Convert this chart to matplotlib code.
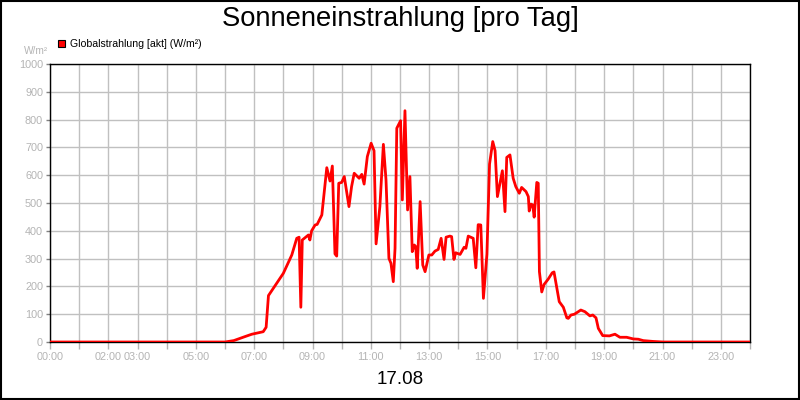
import matplotlib
matplotlib.use("Agg")
import matplotlib.pyplot as plt
from matplotlib.patches import Rectangle

plt.rcParams['font.family'] = ['Liberation Sans', 'DejaVu Sans']

# time of day in hours
hours = [0.00, 6.00, 6.30, 6.51, 6.70, 6.92, 7.31, 7.41, 7.49, 8.00, 8.29, 8.46, 8.54, 8.60,
         8.65, 8.86, 8.91, 8.97, 9.09, 9.16, 9.32, 9.49, 9.60, 9.68, 9.77, 9.83, 9.90,
         10.00, 10.09, 10.25, 10.34, 10.43, 10.60, 10.69, 10.77, 10.88, 11.01, 11.11,
         11.18, 11.31, 11.43, 11.52, 11.62, 11.69, 11.77, 11.83, 11.89, 12.02, 12.08,
         12.17, 12.26, 12.34, 12.42, 12.49, 12.54, 12.59, 12.69, 12.78, 12.86, 12.99,
         13.09, 13.20, 13.31, 13.41, 13.51, 13.58, 13.71, 13.77, 13.85, 13.91, 14.06,
         14.20, 14.26, 14.34, 14.51, 14.60, 14.68, 14.77, 14.86, 14.98, 15.07, 15.18,
         15.26, 15.34, 15.51, 15.60, 15.66, 15.77, 15.88, 15.97, 16.09, 16.17, 16.32,
         16.40, 16.43, 16.49, 16.55, 16.60, 16.69, 16.74, 16.78, 16.86, 16.94, 17.08,
         17.22, 17.28, 17.46, 17.60, 17.72, 17.77, 17.86, 17.98, 18.20, 18.34, 18.51,
         18.61, 18.72, 18.80, 18.95, 19.18, 19.37, 19.54, 19.77, 20.00, 20.17, 20.34,
         20.68, 21.02, 24.00]

# global radiation W/m²
radiation = [0, 0, 5, 13, 20, 28, 37, 53, 167, 247, 313, 373, 377, 125,
             367, 385, 367, 400, 421, 423, 457, 627, 579, 633, 317, 309, 571,
             574, 595, 487, 559, 607, 589, 603, 568, 667, 715, 688,
             353, 487, 711, 583, 301, 283, 217, 337, 769, 796, 511,
             832, 475, 595, 325, 349, 343, 265, 505, 277, 253, 313,
             313, 327, 333, 373, 297, 377, 381, 379, 297, 321, 315,
             341, 337, 381, 373, 267, 422, 421, 157, 316, 640, 721,
             688, 523, 616, 469, 664, 673, 589, 559, 535, 556, 541,
             523, 471, 496, 493, 449, 574, 571, 253, 180, 207, 226,
             249, 252, 145, 125, 87, 85, 97, 100, 115, 109, 94,
             97, 87, 49, 23, 22, 28, 17, 17, 11, 10, 5,
             2, 0, 0]

tick_hours = [0, 2, 3, 5, 7, 9, 11, 13, 15, 17, 19, 21, 23]
tick_labels = ["00:00", "02:00", "03:00", "05:00", "07:00", "09:00", "11:00",
               "13:00", "15:00", "17:00", "19:00", "21:00", "23:00"]
y_ticks = list(range(0, 1001, 100))

title = "Sonneneinstrahlung [pro Tag]"
date_label = "17.08"
series_label = "Globalstrahlung [akt] (W/m²)"
unit_label = "W/m²"

grey = "#b4b4b4"

fig = plt.figure(figsize=(8, 4), dpi=100)
fig.patch.set_facecolor("white")
ax = fig.add_axes([0.0625, 0.145, 0.875, 0.695])

ax.set_xlim(0, 24)
ax.set_ylim(0, 1000)
ax.set_xticks(range(0, 25), minor=True)
ax.set_xticks(tick_hours)
ax.set_xticklabels(tick_labels)
ax.set_yticks(y_ticks)
ax.grid(True, which="both", axis="x", color="#c0c0c0", linewidth=1)
ax.grid(True, which="major", axis="y", color="#c0c0c0", linewidth=1)
ax.set_axisbelow(True)

ax.tick_params(axis="x", which="both", direction="out", length=5, width=1,
               color=grey, labelcolor=grey, labelsize=7.8, pad=2)
ax.tick_params(axis="y", which="both", direction="out", length=3, width=1,
               color="#808080", labelcolor=grey, labelsize=7.8, pad=2)
for s in ax.spines.values():
    s.set_color("black")
    s.set_linewidth(1)

ax.plot(hours, radiation, color="#ff0000", linewidth=2, clip_on=True, zorder=3)

fig.text(0.5, 0.952, title, ha="center", va="center", fontsize=19.7, color="black")
fig.text(0.5, 0.05, date_label, ha="center", va="center", fontsize=13.5, color="black")
fig.text(0.06, 0.872, unit_label, ha="right", va="center", fontsize=7.3, color=grey)

fig.patches.append(Rectangle((0.0725, 0.8825), 0.0085, 0.0175, transform=fig.transFigure,
                             facecolor="#ff0000", edgecolor="black", linewidth=0.8))
fig.text(0.0875, 0.891, series_label, ha="left", va="center", fontsize=7.6, color="black")

fig.patches.append(Rectangle((0.001, 0.002), 0.9975, 0.995, transform=fig.transFigure,
                             facecolor="none", edgecolor="black", linewidth=1.5))

fig.savefig("out.png", dpi=100)
